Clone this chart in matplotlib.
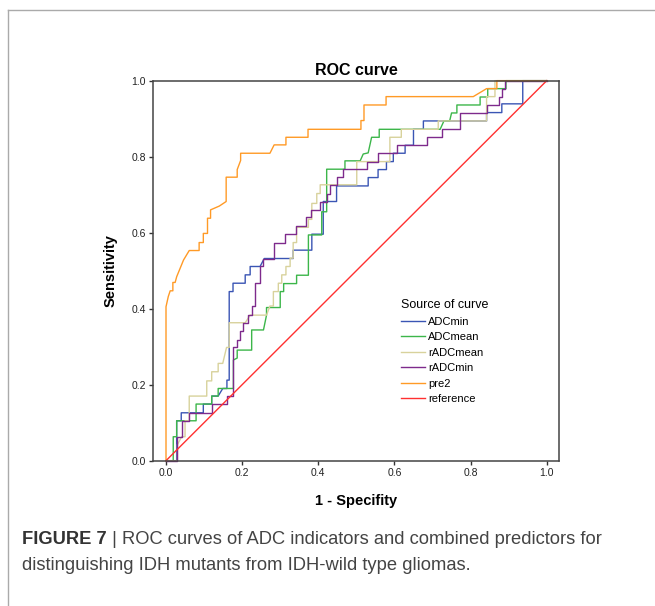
import matplotlib
matplotlib.use("Agg")
import matplotlib.pyplot as plt
from matplotlib.lines import Line2D

plt.rcParams['font.family'] = ['Liberation Sans', 'DejaVu Sans']

# ROC curve vertices: x = 1 - specificity, y = sensitivity
adcmin_x = [0, 0.028, 0.028, 0.04, 0.04, 0.098, 0.098, 0.12, 0.12, 0.137, 0.149, 0.16, 0.16, 0.166,
            0.166, 0.176, 0.176, 0.208, 0.208, 0.221, 0.221, 0.247, 0.258, 0.334, 0.334, 0.383,
            0.383, 0.413, 0.413, 0.448, 0.448, 0.531, 0.531, 0.557, 0.557, 0.579, 0.579, 0.597,
            0.597, 0.628, 0.628, 0.65, 0.65, 0.676, 0.676, 0.842, 0.842, 0.882, 0.882, 0.937,
            0.937, 1.0]
adcmin_y = [0, 0, 0.105, 0.105, 0.126, 0.126, 0.149, 0.149, 0.17, 0.17, 0.19, 0.19, 0.212, 0.212,
            0.445, 0.445, 0.467, 0.467, 0.489, 0.489, 0.511, 0.511, 0.532, 0.532, 0.554, 0.554,
            0.596, 0.596, 0.682, 0.682, 0.723, 0.723, 0.745, 0.745, 0.766, 0.766, 0.787, 0.787,
            0.809, 0.809, 0.83, 0.83, 0.872, 0.872, 0.894, 0.894, 0.916, 0.916, 0.939, 0.939,
            1.0, 1.0]

adcmean_x = [0, 0.019, 0.019, 0.028, 0.028, 0.079, 0.079, 0.12, 0.12, 0.137, 0.137, 0.177, 0.177,
             0.187, 0.187, 0.225, 0.225, 0.256, 0.264, 0.264, 0.3, 0.3, 0.309, 0.309, 0.343, 0.343,
             0.374, 0.374, 0.409, 0.409, 0.422, 0.422, 0.47, 0.47, 0.51, 0.518, 0.531, 0.54, 0.56,
             0.56, 0.72, 0.73, 0.745, 0.75, 0.764, 0.764, 0.825, 0.825, 0.845, 0.845, 0.893, 0.893,
             1.0]
adcmean_y = [0, 0, 0.063, 0.063, 0.105, 0.105, 0.149, 0.149, 0.17, 0.17, 0.19, 0.19, 0.265, 0.27,
             0.291, 0.291, 0.344, 0.344, 0.383, 0.403, 0.403, 0.445, 0.445, 0.466, 0.466, 0.488,
             0.488, 0.594, 0.594, 0.655, 0.655, 0.767, 0.767, 0.789, 0.789, 0.807, 0.81, 0.851,
             0.851, 0.872, 0.872, 0.894, 0.894, 0.915, 0.915, 0.936, 0.936, 0.957, 0.957, 0.979,
             0.979, 1.0, 1.0]

radcmean_x = [0, 0.03, 0.03, 0.041, 0.05, 0.05, 0.061, 0.061, 0.107, 0.107, 0.12, 0.12, 0.137,
              0.137, 0.149, 0.159, 0.166, 0.166, 0.208, 0.221, 0.264, 0.273, 0.282, 0.282, 0.295,
              0.295, 0.304, 0.304, 0.315, 0.315, 0.326, 0.326, 0.334, 0.334, 0.343, 0.343, 0.374,
              0.374, 0.383, 0.383, 0.396, 0.396, 0.405, 0.405, 0.501, 0.501, 0.588, 0.588, 0.618,
              0.618, 0.715, 0.715, 0.842, 0.842, 0.864, 0.864, 1.0]
radcmean_y = [0, 0, 0.042, 0.063, 0.063, 0.105, 0.105, 0.17, 0.17, 0.21, 0.21, 0.234, 0.234, 0.256,
              0.256, 0.298, 0.298, 0.363, 0.363, 0.383, 0.383, 0.407, 0.407, 0.445, 0.445, 0.467,
              0.467, 0.489, 0.489, 0.511, 0.511, 0.533, 0.533, 0.574, 0.574, 0.614, 0.614, 0.635,
              0.635, 0.677, 0.677, 0.703, 0.703, 0.726, 0.726, 0.787, 0.787, 0.851, 0.851, 0.872,
              0.872, 0.894, 0.894, 0.958, 0.958, 1.0, 1.0]

radcmin_x = [0, 0.03, 0.03, 0.041, 0.041, 0.061, 0.061, 0.12, 0.12, 0.159, 0.159, 0.175, 0.175,
             0.186, 0.186, 0.194, 0.194, 0.203, 0.203, 0.216, 0.216, 0.225, 0.225, 0.234, 0.234,
             0.247, 0.247, 0.256, 0.256, 0.284, 0.284, 0.313, 0.313, 0.341, 0.341, 0.369, 0.369,
             0.38, 0.38, 0.405, 0.405, 0.422, 0.422, 0.431, 0.431, 0.448, 0.448, 0.464, 0.464,
             0.527, 0.527, 0.558, 0.558, 0.606, 0.606, 0.685, 0.685, 0.724, 0.724, 0.772, 0.772,
             0.842, 0.842, 0.875, 0.875, 0.882, 0.882, 0.89, 0.89, 1.0]
radcmin_y = [0, 0, 0.063, 0.063, 0.105, 0.105, 0.126, 0.126, 0.149, 0.149, 0.17, 0.17, 0.298,
             0.298, 0.318, 0.318, 0.34, 0.34, 0.363, 0.363, 0.383, 0.383, 0.407, 0.407, 0.467,
             0.467, 0.511, 0.511, 0.532, 0.532, 0.574, 0.574, 0.596, 0.596, 0.618, 0.618, 0.64,
             0.64, 0.66, 0.66, 0.682, 0.682, 0.703, 0.703, 0.725, 0.725, 0.746, 0.746, 0.768,
             0.768, 0.787, 0.787, 0.809, 0.809, 0.831, 0.831, 0.851, 0.851, 0.872, 0.872, 0.915,
             0.915, 0.936, 0.936, 0.958, 0.958, 0.979, 0.979, 1.0, 1.0]

pre2_x = [0, 0, 0.006, 0.011, 0.018, 0.018, 0.024, 0.028, 0.046, 0.061, 0.087, 0.087, 0.098, 0.098,
          0.109, 0.109, 0.117, 0.117, 0.14, 0.158, 0.158, 0.187, 0.187, 0.196, 0.196, 0.273, 0.284,
          0.315, 0.315, 0.373, 0.373, 0.512, 0.512, 0.52, 0.52, 0.578, 0.578, 0.807, 0.842, 0.869,
          0.869, 1.0]
pre2_y = [0, 0.405, 0.432, 0.447, 0.447, 0.469, 0.469, 0.484, 0.528, 0.553, 0.553, 0.574, 0.574,
          0.598, 0.598, 0.638, 0.638, 0.66, 0.67, 0.682, 0.746, 0.746, 0.766, 0.79, 0.809, 0.809,
          0.831, 0.831, 0.851, 0.851, 0.872, 0.872, 0.895, 0.895, 0.936, 0.936, 0.958, 0.958,
          0.979, 0.979, 1.0, 1.0]

ref_x = [0, 1]
ref_y = [0, 1]

curve_names = ['ADCmin', 'ADCmean', 'rADCmean', 'rADCmin', 'pre2', 'reference']
curve_colors = ['#3a55b4', '#3cb64a', '#d8d29c', '#7e2a8c', '#ff9a26', '#ff3030']
ticks = [0.0, 0.2, 0.4, 0.6, 0.8, 1.0]
tick_labels = ['0.0', '0.2', '0.4', '0.6', '0.8', '1.0']

fig = plt.figure(figsize=(6.55, 6.06), dpi=100)
ax = fig.add_axes([0.2331, 0.2398, 0.6208, 0.6271])

curves = [(adcmin_x, adcmin_y), (adcmean_x, adcmean_y), (radcmean_x, radcmean_y),
          (radcmin_x, radcmin_y), (pre2_x, pre2_y), (ref_x, ref_y)]
for (cx, cy), name, col in zip(curves, curve_names, curve_colors):
    ax.plot(cx, cy, color=col, lw=1.0, label=name, clip_on=False)

ax.set_xlim(-0.035, 1.033)
ax.set_ylim(0, 1)
ax.set_xticks(ticks)
ax.set_xticklabels(tick_labels)
ax.set_yticks(ticks)
ax.set_yticklabels(tick_labels)
ax.tick_params(direction='out', length=3, width=1, pad=2, labelsize=7.5,
               colors='#333333', labelcolor='#222222')
for sp in ax.spines.values():
    sp.set_color('#444444')
    sp.set_linewidth(1.1)

ax.set_title('ROC curve', fontsize=11.5, fontweight='bold', pad=4)
ax.set_xlabel('1 - Specifity', fontsize=10.5, fontweight='bold', labelpad=12)
ax.set_ylabel('Sensitivity', fontsize=10.5, fontweight='bold', labelpad=10)

leg = ax.legend(title='Source of curve', loc='upper left',
                bbox_to_anchor=(401 / 655, 1 - 299 / 606), bbox_transform=fig.transFigure,
                frameon=False, fontsize=8, title_fontsize=9, handlelength=2.2,
                handletextpad=0.25, labelspacing=0.5, borderpad=0, borderaxespad=0,
                alignment='left')

# outer panel border
fig.add_artist(Line2D([8 / 655, 1], [1 - 10 / 606, 1 - 10 / 606], color='#aaaaaa', lw=1))
fig.add_artist(Line2D([8 / 655, 8 / 655], [0, 1 - 10 / 606], color='#aaaaaa', lw=1))

# caption
cap_font = ['Liberation Sans', 'DejaVu Sans']
c1 = fig.text(22 / 655, 1 - 540 / 606, 'FIGURE 7', fontsize=13.2, fontweight='bold',
              color='#333333', va='center', family=cap_font)
fig.canvas.draw()
bb = c1.get_window_extent()
fig.text(bb.x1 / 655, 1 - 540 / 606, ' | ROC curves of ADC indicators and combined predictors for',
         fontsize=13.2, color='#444444', va='center', family=cap_font)
fig.text(22 / 655, 1 - 566 / 606, 'distinguishing IDH mutants from IDH-wild type gliomas.',
         fontsize=13.2, color='#444444', va='center', family=cap_font)

fig.savefig('out.png', dpi=100)
